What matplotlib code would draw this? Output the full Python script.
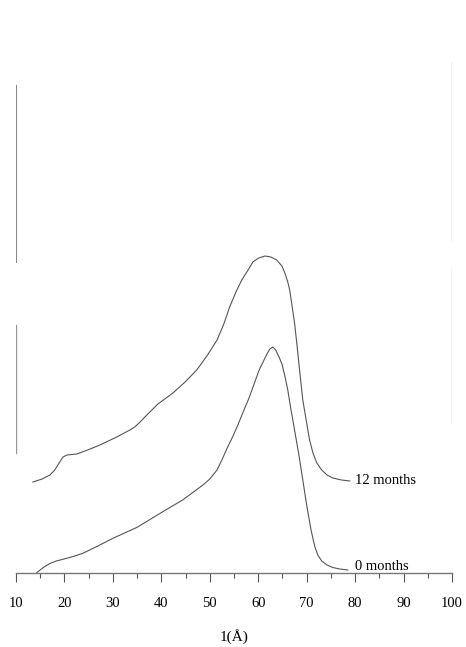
import matplotlib.pyplot as plt
from matplotlib.ticker import MultipleLocator

# long spacing l (Angstrom) vs. intensity (arbitrary units)
l_0m = [14.3, 15.8, 17.0, 18.3, 19.7, 21.8, 23.8, 26.9, 30.0, 35.0, 40.3, 44.4,
        46.9, 48.6, 50.0, 51.5, 52.5, 53.5, 54.8, 55.8, 56.8, 58.1, 59.3, 60.1,
        61.0, 61.8, 62.4, 63.0, 63.6, 64.3, 64.9, 65.5, 66.1, 66.7, 67.5, 68.4,
        69.2, 70.0, 70.9, 71.7, 72.3, 73.1, 74.2, 75.4, 76.8, 78.5]
i_0m = [0.0, 0.55, 0.9, 1.15, 1.32, 1.6, 1.92, 2.65, 3.42, 4.52, 6.08, 7.25,
        8.15, 8.75, 9.35, 10.25, 11.25, 12.35, 13.65, 14.75, 15.95, 17.45, 19.05, 20.15,
        21.05, 21.85, 22.35, 22.55, 22.25, 21.55, 20.85, 19.65, 18.25, 16.45, 14.25, 11.75,
        9.25, 6.75, 4.25, 2.55, 1.75, 1.15, 0.75, 0.5, 0.35, 0.25]

l_12m = [13.5, 15.4, 17.0, 18.0, 18.9, 19.7, 20.5, 22.6, 25.3, 27.3, 30.8, 33.5,
         34.5, 35.6, 37.0, 39.3, 42.4, 44.9, 47.3, 49.4, 51.5, 52.9, 54.1, 55.4,
         56.6, 57.9, 58.9, 60.1, 61.4, 62.6, 63.8, 64.9, 65.5, 66.1, 66.5, 66.9,
         67.5, 68.0, 68.6, 69.2, 70.0, 70.6, 71.3, 72.1, 73.1, 74.2, 75.4, 77.2, 78.9]
i_12m = [9.05, 9.35, 9.75, 10.25, 10.95, 11.55, 11.75, 11.85, 12.35, 12.75, 13.55, 14.25,
         14.55, 15.05, 15.75, 16.85, 17.95, 19.05, 20.25, 21.65, 23.25, 24.85, 26.55, 28.05,
         29.25, 30.25, 31.05, 31.45, 31.65, 31.55, 31.25, 30.65, 29.95, 29.05, 28.25, 26.95,
         24.95, 22.75, 19.95, 17.25, 14.95, 13.25, 11.95, 10.95, 10.25, 9.75, 9.45, 9.25, 9.15]

labels = ["0 months", "12 months"]

plt.rcParams['font.family'] = ['Liberation Serif', 'DejaVu Serif']

fig = plt.figure(figsize=(4.66, 6.47), dpi=100)
ax = fig.add_axes([16 / 466, 1 - 572.5 / 647, 436 / 466, 572.5 / 647])

line_col = '#555555'
ax.plot(l_0m, i_0m, color=line_col, lw=0.8, solid_joinstyle='round')
ax.plot(l_12m, i_12m, color=line_col, lw=0.8, solid_joinstyle='round')

ax.text(l_0m[-1] + 1.4, i_0m[-1] + 0.35, labels[0], fontsize=10.5, va='center', ha='left')
ax.text(l_12m[-1] + 1.0, i_12m[-1] + 0.05, labels[1], fontsize=10.5, va='center', ha='left')

ax.set_xlim(10, 100)
ax.set_ylim(0, 57.25)

for s in ['top', 'left', 'right']:
    ax.spines[s].set_visible(False)
ax.spines['bottom'].set_color('#777777')
ax.spines['bottom'].set_linewidth(1.0)

# faded side lines of the scanned frame
ax.axvline(10, ymin=31.05 / 57.25, ymax=48.75 / 57.25, color='#888888', lw=0.8)
ax.axvline(10, ymin=11.95 / 57.25, ymax=24.75 / 57.25, color='#999999', lw=1.0)
ax.axvline(100, ymin=33.25 / 57.25, ymax=51.05 / 57.25, color='#aaaaaa', lw=1.0)
ax.axvline(100, ymin=15.05 / 57.25, ymax=30.55 / 57.25, color='#666666', lw=0.8)

ax.xaxis.set_major_locator(MultipleLocator(10))
ax.xaxis.set_minor_locator(MultipleLocator(5))
ax.tick_params(axis='x', which='major', direction='out', length=6.5, width=0.8,
               color='#555555', pad=11, labelsize=10.5)
ax.tick_params(axis='x', which='minor', direction='out', length=3.6, width=0.8,
               color='#555555')
ax.set_yticks([])

ax.set_xlabel('1(Å)', fontsize=11, labelpad=14)

fig.savefig('out.png', dpi=100)
